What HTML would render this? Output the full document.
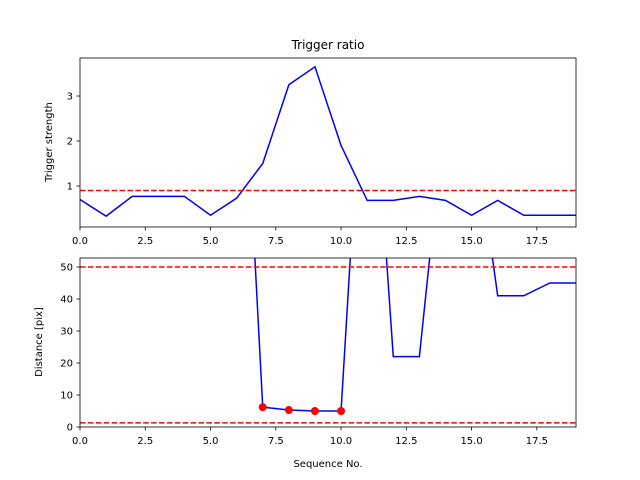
<!DOCTYPE html>
<html><head><meta charset="utf-8"><style>
body{margin:0;background:#fff}
svg{display:block;font-family:"DejaVu Sans","Liberation Sans",sans-serif}
</style></head><body>
<svg id="fig" width="640" height="480">
<rect width="640" height="480" fill="#fff"/>
<defs>
<clipPath id="c1"><rect x="80" y="58" width="496" height="169"/></clipPath>
<clipPath id="c2"><rect x="80" y="258" width="496" height="169"/></clipPath>
</defs>
<g id="topg"></g>
<g id="botg"></g>
</svg>
<script>
const seq=[0,1,2,3,4,5,6,7,8,9,10,11,12,13,14,15,16,17,18,19];
const strength=[0.7,0.33,0.77,0.77,0.77,0.35,0.73,1.5,3.25,3.65,1.9,0.68,0.68,0.77,0.68,0.35,0.68,0.35,0.35,0.35];
const strengthThreshold=0.9;
const distance=[160,160,160,160,160,160,161,6.2,5.3,5.0,5.0,140,22,22,100,100,41,41,45,45];
const distUpper=50, distLower=1.3;
const matchIdx=[7,8,9,10];
const xTicks=[0,2.5,5,7.5,10,12.5,15,17.5];
const xTickLabels=["0.0","2.5","5.0","7.5","10.0","12.5","15.0","17.5"];
const topTicks=[1,2,3];
const botTicks=[0,10,20,30,40,50];

const NS="http://www.w3.org/2000/svg";
function mk(p,t,a){const e=document.createElementNS(NS,t);for(const k in a)e.setAttribute(k,a[k]);p.appendChild(e);return e;}
const X=v=>80+v*(496/19);
const Yt=v=>231-v*45;
const Yb=v=>427-v*3.2;

function axes(g,y0,h,Y,yt,name){
  const fr=mk(g,'rect',{x:80,y:y0,width:496,height:h,fill:'#fff'});
  
  
  xTicks.forEach((t,i)=>{
    mk(g,'line',{x1:X(t),x2:X(t),y1:y0+h,y2:y0+h+3.5,stroke:'#000','stroke-width':0.8});
    const tx=mk(g,'text',{x:X(t),y:y0+h+17,'font-size':10,'text-anchor':'middle'});
    tx.textContent=xTickLabels[i];
    
    
  });
  yt.forEach(t=>{
    mk(g,'line',{x1:80,x2:76.5,y1:Y(t),y2:Y(t),stroke:'#000','stroke-width':0.8});
    const tx=mk(g,'text',{x:73,y:Y(t)+3.5,'font-size':10,'text-anchor':'end'});
    tx.textContent=t;
    
    
  });
}
function drawLine(g,vals,Y,clip,name){
  const d=vals.map((v,i)=>(i?'L':'M')+X(seq[i])+','+Y(v)).join('');
  const p=mk(g,'path',{d:d,fill:'none',stroke:'#0000ff','stroke-width':1.5,'clip-path':'url(#'+clip+')'});
  
  
}
function hline(g,v,Y,clip,name){
  const l=mk(g,'line',{x1:80,x2:576,y1:Y(v),y2:Y(v),stroke:'#ff0000','stroke-width':1.5,'stroke-dasharray':'5.5,2.4','clip-path':'url(#'+clip+')'});
  
  
}
const gTop=document.getElementById('topg'), gBot=document.getElementById('botg');
axes(gTop,58,169,Yt,topTicks,'top');
drawLine(gTop,strength,Yt,'c1','trigger-strength-line');
hline(gTop,strengthThreshold,Yt,'c1','trigger-threshold-line');
mk(gTop,'rect',{x:80,y:58,width:496,height:169,fill:'none',stroke:'#000','stroke-width':0.8});
let t=mk(gTop,'text',{x:328,y:49,'font-size':12,'text-anchor':'middle'});t.textContent='Trigger ratio';


t=mk(gTop,'text',{x:328,y:266,'font-size':10,'text-anchor':'middle'});t.textContent='Sequence No.';


t=mk(gTop,'text',{x:52,y:142,'font-size':10,'text-anchor':'middle',transform:'rotate(-90 52 142)'});t.textContent='Trigger strength';



axes(gBot,258,169,Yb,botTicks,'bottom');
drawLine(gBot,distance,Yb,'c2','distance-line');
hline(gBot,distUpper,Yb,'c2','distance-upper-line');
hline(gBot,distLower,Yb,'c2','distance-lower-line');
matchIdx.forEach(i=>{
  const c=mk(gBot,'circle',{cx:X(seq[i]),cy:Yb(distance[i]),r:4,fill:'#ff0000','clip-path':'url(#c2)'});
  
  
});
mk(gBot,'rect',{x:80,y:258,width:496,height:169,fill:'none',stroke:'#000','stroke-width':0.8});
t=mk(gBot,'text',{x:328,y:467,'font-size':10,'text-anchor':'middle'});t.textContent='Sequence No.';


t=mk(gBot,'text',{x:42,y:342,'font-size':10,'text-anchor':'middle',transform:'rotate(-90 42 342)'});t.textContent='Distance [pix]';


</script>
</body></html>
